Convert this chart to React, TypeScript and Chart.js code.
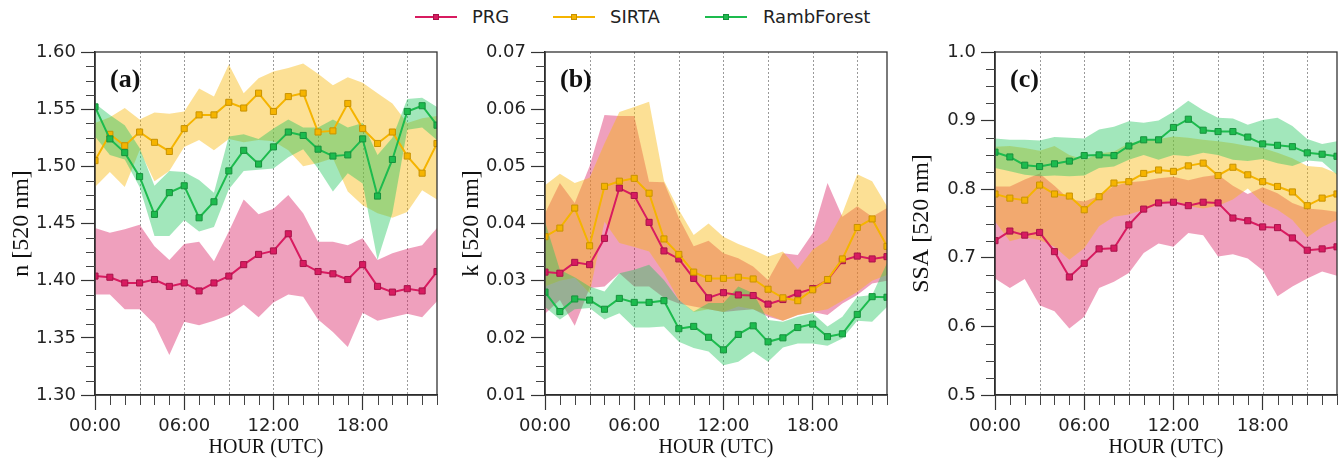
import React, { useEffect, useRef } from 'react';
import { Chart, registerables } from 'chart.js';

Chart.register(...registerables);

// ---------------- DATA ----------------
const HOURS = [0, 1, 2, 3, 4, 5, 6, 7, 8, 9, 10, 11, 12, 13, 14, 15, 16, 17, 18, 19, 20, 21, 22, 23];
const X_TICKS = [0, 6, 12, 18];
const X_TICK_LABELS = ['00:00', '06:00', '12:00', '18:00'];
const X_DOTTED_HOURS = [3, 6, 9, 12, 15, 18, 21];
const X_TITLE = 'HOUR (UTC)';

const SERIES_NAMES = ['PRG', 'SIRTA', 'RambForest'];

// Panel (a): refractive index n
const N_TICKS = [1.3, 1.35, 1.4, 1.45, 1.5, 1.55, 1.6];
const N_TICK_LABELS = ['1.30', '1.35', '1.40', '1.45', '1.50', '1.55', '1.60'];
const prgN = [1.404, 1.403, 1.398, 1.398, 1.401, 1.395, 1.398, 1.391, 1.398, 1.404, 1.414, 1.423, 1.426, 1.441, 1.415, 1.408, 1.406, 1.401, 1.414, 1.395, 1.390, 1.393, 1.391, 1.408];
const prgNHi = [1.446, 1.442, 1.445, 1.449, 1.430, 1.418, 1.432, 1.434, 1.417, 1.443, 1.471, 1.458, 1.463, 1.475, 1.459, 1.434, 1.434, 1.431, 1.437, 1.418, 1.424, 1.428, 1.431, 1.446];
const prgNLo = [1.388, 1.388, 1.375, 1.375, 1.362, 1.335, 1.364, 1.361, 1.365, 1.370, 1.379, 1.368, 1.381, 1.388, 1.386, 1.366, 1.355, 1.342, 1.372, 1.365, 1.368, 1.371, 1.368, 1.382];
const sirtaN = [1.505, 1.528, 1.518, 1.530, 1.521, 1.513, 1.533, 1.545, 1.545, 1.556, 1.551, 1.564, 1.548, 1.561, 1.564, 1.530, 1.531, 1.555, 1.533, 1.520, 1.530, 1.509, 1.494, 1.520];
const sirtaNHi = [1.538, 1.543, 1.551, 1.541, 1.547, 1.546, 1.548, 1.568, 1.561, 1.589, 1.564, 1.577, 1.583, 1.586, 1.590, 1.581, 1.571, 1.578, 1.573, 1.564, 1.555, 1.538, 1.542, 1.544];
const sirtaNLo = [1.482, 1.495, 1.482, 1.514, 1.487, 1.496, 1.517, 1.523, 1.514, 1.524, 1.521, 1.523, 1.522, 1.514, 1.500, 1.503, 1.507, 1.478, 1.466, 1.459, 1.455, 1.460, 1.479, 1.471];
const ramN = [1.552, 1.524, 1.512, 1.491, 1.458, 1.477, 1.483, 1.455, 1.469, 1.496, 1.514, 1.502, 1.517, 1.530, 1.527, 1.515, 1.509, 1.510, 1.524, 1.474, 1.506, 1.548, 1.553, 1.536];
const ramNHi = [1.555, 1.545, 1.536, 1.516, 1.483, 1.496, 1.495, 1.488, 1.477, 1.526, 1.528, 1.524, 1.533, 1.541, 1.534, 1.534, 1.541, 1.534, 1.538, 1.510, 1.525, 1.559, 1.560, 1.552];
const ramNLo = [1.526, 1.510, 1.506, 1.482, 1.439, 1.439, 1.453, 1.443, 1.447, 1.480, 1.496, 1.497, 1.498, 1.508, 1.515, 1.498, 1.478, 1.494, 1.485, 1.418, 1.459, 1.532, 1.534, 1.523];

// Panel (b): imaginary index k
const K_TICKS = [0.01, 0.02, 0.03, 0.04, 0.05, 0.06, 0.07];
const K_TICK_LABELS = ['0.01', '0.02', '0.03', '0.04', '0.05', '0.06', '0.07'];
const prgK = [0.0315, 0.0313, 0.0332, 0.0328, 0.0374, 0.0462, 0.0449, 0.0402, 0.0352, 0.0338, 0.0304, 0.0270, 0.0279, 0.0275, 0.0274, 0.0259, 0.0267, 0.0278, 0.0286, 0.0301, 0.0335, 0.0343, 0.0338, 0.0342];
const prgKHi = [0.0418, 0.0471, 0.0436, 0.0500, 0.0590, 0.0588, 0.0588, 0.0473, 0.0472, 0.0410, 0.0360, 0.0370, 0.0348, 0.0339, 0.0325, 0.0301, 0.0348, 0.0345, 0.0383, 0.0471, 0.0412, 0.0430, 0.0412, 0.0427];
const prgKLo = [0.0242, 0.0266, 0.0221, 0.0287, 0.0290, 0.0313, 0.0290, 0.0290, 0.0270, 0.0260, 0.0255, 0.0250, 0.0245, 0.0248, 0.0250, 0.0237, 0.0230, 0.0240, 0.0245, 0.0240, 0.0260, 0.0275, 0.0295, 0.0300];
const sirtaK = [0.0377, 0.0392, 0.0427, 0.0361, 0.0465, 0.0474, 0.0479, 0.0453, 0.0373, 0.0346, 0.0315, 0.0304, 0.0304, 0.0306, 0.0303, 0.0285, 0.0270, 0.0265, 0.0284, 0.0302, 0.0338, 0.0393, 0.0408, 0.0360];
const sirtaKHi = [0.0467, 0.0487, 0.0471, 0.0480, 0.0540, 0.0595, 0.0604, 0.0613, 0.0475, 0.0424, 0.0380, 0.0400, 0.0377, 0.0364, 0.0354, 0.0342, 0.0351, 0.0320, 0.0354, 0.0371, 0.0418, 0.0486, 0.0474, 0.0430];
const sirtaKLo = [0.0290, 0.0300, 0.0305, 0.0278, 0.0403, 0.0366, 0.0359, 0.0351, 0.0313, 0.0266, 0.0245, 0.0250, 0.0245, 0.0255, 0.0250, 0.0240, 0.0230, 0.0240, 0.0245, 0.0250, 0.0265, 0.0280, 0.0300, 0.0310];
const ramK = [0.0280, 0.0246, 0.0268, 0.0266, 0.0250, 0.0269, 0.0262, 0.0262, 0.0265, 0.0216, 0.0220, 0.0201, 0.0179, 0.0206, 0.0221, 0.0193, 0.0200, 0.0218, 0.0224, 0.0202, 0.0207, 0.0241, 0.0272, 0.0271];
const ramKHi = [0.0403, 0.0319, 0.0306, 0.0290, 0.0281, 0.0313, 0.0319, 0.0328, 0.0301, 0.0266, 0.0246, 0.0261, 0.0261, 0.0290, 0.0278, 0.0231, 0.0228, 0.0237, 0.0243, 0.0220, 0.0237, 0.0272, 0.0275, 0.0331];
const ramKLo = [0.0254, 0.0232, 0.0250, 0.0252, 0.0232, 0.0243, 0.0218, 0.0218, 0.0220, 0.0193, 0.0182, 0.0176, 0.0152, 0.0158, 0.0176, 0.0158, 0.0183, 0.0190, 0.0190, 0.0186, 0.0199, 0.0230, 0.0228, 0.0254];

// Panel (c): single scattering albedo
const SSA_TICKS = [0.5, 0.6, 0.7, 0.8, 0.9, 1.0];
const SSA_TICK_LABELS = ['0.5', '0.6', '0.7', '0.8', '0.9', '1.0'];
const prgS = [0.725, 0.739, 0.733, 0.737, 0.709, 0.672, 0.692, 0.713, 0.714, 0.748, 0.771, 0.780, 0.781, 0.776, 0.781, 0.780, 0.758, 0.754, 0.745, 0.744, 0.729, 0.711, 0.713, 0.716];
const prgSHi = [0.804, 0.804, 0.814, 0.823, 0.805, 0.785, 0.782, 0.790, 0.805, 0.810, 0.812, 0.816, 0.818, 0.813, 0.818, 0.821, 0.805, 0.793, 0.803, 0.794, 0.780, 0.772, 0.770, 0.767];
const prgSLo = [0.670, 0.656, 0.669, 0.631, 0.622, 0.597, 0.614, 0.656, 0.665, 0.678, 0.707, 0.721, 0.716, 0.736, 0.733, 0.702, 0.705, 0.699, 0.682, 0.644, 0.658, 0.670, 0.680, 0.674];
const sirtaS = [0.793, 0.787, 0.784, 0.806, 0.793, 0.790, 0.770, 0.789, 0.809, 0.811, 0.823, 0.828, 0.826, 0.834, 0.838, 0.820, 0.832, 0.821, 0.811, 0.804, 0.796, 0.776, 0.787, 0.793];
const sirtaSHi = [0.862, 0.863, 0.860, 0.856, 0.863, 0.850, 0.843, 0.852, 0.855, 0.867, 0.871, 0.873, 0.877, 0.875, 0.872, 0.870, 0.867, 0.863, 0.860, 0.853, 0.845, 0.834, 0.832, 0.823];
const sirtaSLo = [0.753, 0.724, 0.730, 0.726, 0.716, 0.697, 0.714, 0.746, 0.760, 0.763, 0.770, 0.777, 0.785, 0.775, 0.772, 0.776, 0.785, 0.801, 0.780, 0.770, 0.755, 0.730, 0.745, 0.755];
const ramS = [0.854, 0.847, 0.835, 0.833, 0.837, 0.841, 0.849, 0.850, 0.849, 0.863, 0.872, 0.872, 0.890, 0.902, 0.886, 0.884, 0.884, 0.876, 0.866, 0.864, 0.862, 0.853, 0.851, 0.848];
const ramSHi = [0.874, 0.872, 0.872, 0.871, 0.876, 0.875, 0.874, 0.887, 0.891, 0.899, 0.897, 0.900, 0.913, 0.929, 0.915, 0.904, 0.903, 0.894, 0.901, 0.904, 0.892, 0.873, 0.866, 0.870];
const ramSLo = [0.831, 0.826, 0.821, 0.819, 0.820, 0.819, 0.820, 0.831, 0.833, 0.843, 0.850, 0.843, 0.850, 0.848, 0.853, 0.850, 0.843, 0.841, 0.844, 0.838, 0.834, 0.842, 0.840, 0.821];

// ---------------- STYLE ----------------
const LINE_COLORS = ['#d81b60', '#f5b400', '#1dbb4e'];
const MARKER_BORDERS = ['#a8134a', '#c89200', '#16913c'];
const BAND_COLORS = ['rgba(218,28,98,0.42)', 'rgba(248,184,10,0.43)', 'rgba(34,197,94,0.42)'];

const SANS = '"DejaVu Sans", sans-serif';
const SERIF = '"Liberation Serif", "Times New Roman", serif';

type Series = { mean: number[]; hi: number[]; lo: number[] };
type Panel = {
  tag: string;
  yTitle: string;
  ticks: number[];
  tickLabels: string[];
  series: Series[];
  left: number;
  width: number;
};

const PANELS: Panel[] = [
  {
    tag: '(a)', yTitle: 'n [520 nm]', ticks: N_TICKS, tickLabels: N_TICK_LABELS, left: 0, width: 450,
    series: [
      { mean: prgN, hi: prgNHi, lo: prgNLo },
      { mean: sirtaN, hi: sirtaNHi, lo: sirtaNLo },
      { mean: ramN, hi: ramNHi, lo: ramNLo },
    ],
  },
  {
    tag: '(b)', yTitle: 'k [520 nm]', ticks: K_TICKS, tickLabels: K_TICK_LABELS, left: 450, width: 450,
    series: [
      { mean: prgK, hi: prgKHi, lo: prgKLo },
      { mean: sirtaK, hi: sirtaKHi, lo: sirtaKLo },
      { mean: ramK, hi: ramKHi, lo: ramKLo },
    ],
  },
  {
    tag: '(c)', yTitle: 'SSA [520 nm]', ticks: SSA_TICKS, tickLabels: SSA_TICK_LABELS, left: 900, width: 443,
    series: [
      { mean: prgS, hi: prgSHi, lo: prgSLo },
      { mean: sirtaS, hi: sirtaSHi, lo: sirtaSLo },
      { mean: ramS, hi: ramSHi, lo: ramSLo },
    ],
  },
];

const CANVAS_H = 472;
const PLOT_LEFT = 95;
const PLOT_RIGHT = 437;
const PLOT_TOP = 52;
const PLOT_BOTTOM = 395;

const toXY = (arr: number[]) => HOURS.map((h, i) => ({ x: h, y: arr[i] }));

const decorPlugin = {
  id: 'decor',
  beforeDatasetsDraw(chart: any) {
    const { ctx, chartArea: ca } = chart;
    const x = chart.scales.x;
    ctx.save();
    ctx.strokeStyle = '#9a9a9a';
    ctx.lineWidth = 1;
    ctx.setLineDash([2, 2]);
    for (const h of X_DOTTED_HOURS) {
      const px = Math.round(x.getPixelForValue(h)) + 0.5;
      ctx.beginPath();
      ctx.moveTo(px, ca.top);
      ctx.lineTo(px, ca.bottom);
      ctx.stroke();
    }
    ctx.restore();
  },
  afterDraw(chart: any, _args: any, opts: any) {
    const { ctx, chartArea: ca } = chart;
    const x = chart.scales.x;
    const y = chart.scales.y;
    ctx.save();
    // frame
    ctx.strokeStyle = '#333';
    ctx.lineWidth = 1.3;
    ctx.strokeRect(ca.left, ca.top, ca.right - ca.left, ca.bottom - ca.top);
    // minor x ticks
    ctx.strokeStyle = '#444';
    ctx.lineWidth = 1;
    for (const h of HOURS) {
      if (X_TICKS.includes(h)) continue;
      const px = Math.round(x.getPixelForValue(h)) + 0.5;
      ctx.beginPath();
      ctx.moveTo(px, ca.bottom);
      ctx.lineTo(px, ca.bottom + 10);
      ctx.stroke();
    }
    // minor y ticks (quarter steps)
    const t: number[] = opts.ticks;
    for (let i = 0; i < t.length - 1; i++) {
      for (let q = 1; q < 4; q++) {
        const v = t[i] + ((t[i + 1] - t[i]) * q) / 4;
        const py = Math.round(y.getPixelForValue(v)) + 0.5;
        ctx.beginPath();
        ctx.moveTo(ca.left - 9, py);
        ctx.lineTo(ca.left, py);
        ctx.stroke();
      }
    }
    // panel tag
    ctx.fillStyle = '#111';
    ctx.font = 'bold 26px ' + SERIF;
    ctx.textBaseline = 'middle';
    ctx.textAlign = 'left';
    ctx.fillText(opts.tag, ca.left + 15, ca.top + 28);
    ctx.restore();
  },
};

function PanelChart({ panel }: { panel: Panel }) {
  const ref = useRef<HTMLCanvasElement | null>(null);
  useEffect(() => {
    if (!ref.current) return;
    const datasets: any[] = [];
    panel.series.forEach((s, si) => {
      datasets.push({
        label: SERIES_NAMES[si] + ' upper',
        data: toXY(s.hi),
        fill: '+1',
        backgroundColor: BAND_COLORS[si],
        borderWidth: 0,
        borderColor: 'rgba(0,0,0,0)',
        pointRadius: 0,
        order: 20 - si,
      });
      datasets.push({
        label: SERIES_NAMES[si] + ' lower',
        data: toXY(s.lo),
        fill: false,
        borderWidth: 0,
        borderColor: 'rgba(0,0,0,0)',
        pointRadius: 0,
        order: 20 - si,
      });
    });
    panel.series.forEach((s, si) => {
      datasets.push({
        label: SERIES_NAMES[si],
        data: toXY(s.mean),
        fill: false,
        borderColor: LINE_COLORS[si],
        borderWidth: 2,
        pointStyle: 'rect',
        pointRadius: 4.3,
        pointBorderWidth: 1,
        pointBackgroundColor: LINE_COLORS[si],
        pointBorderColor: MARKER_BORDERS[si],
        order: 5 - si,
      });
    });

    const yMin = panel.ticks[0];
    const yMax = panel.ticks[panel.ticks.length - 1];

    const chart = new Chart(ref.current, {
      type: 'line',
      data: { datasets },
      plugins: [decorPlugin as any],
      options: {
        animation: false,
        responsive: false,
        devicePixelRatio: 1,
        layout: { padding: { left: 0, right: panel.width - PLOT_RIGHT, top: PLOT_TOP, bottom: 0 } },
        elements: { line: { tension: 0 } },
        plugins: {
          legend: { display: false },
          tooltip: { enabled: false },
          decor: { tag: panel.tag, ticks: panel.ticks },
        } as any,
        scales: {
          x: {
            type: 'linear',
            min: 0,
            max: 23,
            afterBuildTicks: (s: any) => {
              s.ticks = X_TICKS.map((v) => ({ value: v }));
            },
            afterFit: (s: any) => {
              s.height = CANVAS_H - PLOT_BOTTOM;
            },
            ticks: {
              callback: (_v: any, i: number) => X_TICK_LABELS[i],
              font: { family: SANS, size: 18 },
              color: '#222',
              padding: 6,
              maxRotation: 0,
              autoSkip: false,
            },
            grid: { drawOnChartArea: false, drawTicks: true, tickLength: 15, tickColor: '#333', tickWidth: 1.2 },
            border: { display: true, color: '#222', width: 1.5 },
            title: {
              display: true,
              text: X_TITLE,
              font: { family: SERIF, size: 20 },
              color: '#111',
              padding: { top: 0, bottom: 12 },
            },
          },
          y: {
            type: 'linear',
            min: yMin,
            max: yMax,
            afterBuildTicks: (s: any) => {
              s.ticks = panel.ticks.map((v) => ({ value: v }));
            },
            afterFit: (s: any) => {
              s.width = PLOT_LEFT;
            },
            ticks: {
              callback: (_v: any, i: number) => panel.tickLabels[i],
              font: { family: SANS, size: 18 },
              color: '#222',
              padding: 5,
              autoSkip: false,
            },
            grid: { drawOnChartArea: false, drawTicks: true, tickLength: 14, tickColor: '#333', tickWidth: 1.2 },
            border: { display: true, color: '#222', width: 1.5 },
            title: {
              display: true,
              text: panel.yTitle,
              font: { family: SERIF, size: 24 },
              color: '#111',
              padding: { top: 7, bottom: 0 },
            },
          },
        },
      } as any,
    });
    return () => chart.destroy();
  }, [panel]);

  return (
    <canvas
      ref={ref}
      width={panel.width}
      height={CANVAS_H}
      style={{ position: 'absolute', left: panel.left, top: 0, width: panel.width, height: CANVAS_H }}
    />
  );
}

function LegendItem({ name, color, border, left, textLeft }: { name: string; color: string; border: string; left: number; textLeft: number }) {
  return (
    <>
      <div style={{ position: 'absolute', left, top: 16, width: 42, height: 2, background: color }} />
      <div
        style={{
          position: 'absolute', left: left + 18, top: 14, width: 6, height: 6, background: color,
          boxSizing: 'border-box', border: '1px solid ' + border,
        }}
      />
      <div
        style={{
          position: 'absolute', left: textLeft, top: 5, height: 24, lineHeight: '24px',
          fontFamily: SANS, fontSize: 18, color: '#222', whiteSpace: 'nowrap',
        }}
      >
        {name}
      </div>
    </>
  );
}

const LEGEND_LINE_X = [415, 553, 705];
const LEGEND_TEXT_X = [472, 610, 763];

export default function App() {
  return (
    <div style={{ position: 'absolute', left: 0, top: 0, width: 1343, height: 472, background: '#fff', overflow: 'hidden' }}>
      {SERIES_NAMES.map((n, i) => (
        <LegendItem key={n} name={n} color={LINE_COLORS[i]} border={MARKER_BORDERS[i]} left={LEGEND_LINE_X[i]} textLeft={LEGEND_TEXT_X[i]} />
      ))}
      {PANELS.map((p) => (
        <PanelChart key={p.tag} panel={p} />
      ))}
    </div>
  );
}
